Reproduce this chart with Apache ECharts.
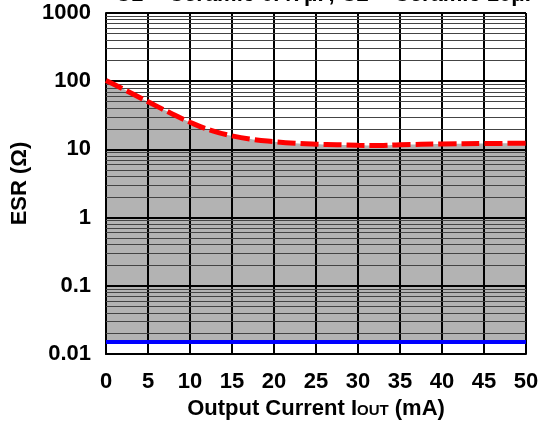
<!DOCTYPE html>
<html>
<head>
<meta charset="utf-8">
<script src="https://cdn.jsdelivr.net/npm/echarts@6/dist/echarts.min.js"></script>
<style>
  html, body { margin: 0; padding: 0; background: #fff; }
  #chart { width: 548px; height: 430px; }
</style>
</head>
<body>
<div id="chart"></div>
<script>
  // output current (mA) and ESR upper limit (ohm)
  const current = [0, 2.5, 5, 7.5, 10, 12.5, 15, 17.5, 20, 22.5, 25, 27.5, 30, 32.5, 35, 40, 45, 50]
  const esrMax = [102, 72, 50, 35, 25, 19, 15.8, 14, 13, 12.3, 11.9, 11.7, 11.5, 11.4, 11.7, 12.0, 12.2, 12.3]
  // lower ESR limit
  const minCurrent = [0, 50]
  const esrMin = [0.015, 0.015]
  const decades = [0.01, 0.1, 1, 10, 100]

  const minorValues = []
  decades.forEach(d => {
    for (let k = 2; k <= 9; k++) minorValues.push(+(d * k).toPrecision(3))
  })

  const font = 'Liberation Sans, Arial, sans-serif'
  const myChart = echarts.init(document.getElementById('chart'))

  myChart.setOption({
    animation: false,
    graphic: [{
      type: 'text',
      left: 115,
      top: -16,
      style: {
        text: 'C1 = Ceramic 0.47μF, C2 = Ceramic 10μF',
        font: 'bold 22px ' + font,
        fill: '#000'
      }
    }],
    grid: { left: 106, right: 22, top: 13, bottom: 76 },
    xAxis: {
      type: 'value',
      min: 0,
      max: 50,
      interval: 5,
      z: 2,
      axisLine: { lineStyle: { color: '#000', width: 2 } },
      axisTick: { show: false },
      axisLabel: { fontSize: 22, fontWeight: 'bold', color: '#000', fontFamily: font, margin: 17 },
      splitLine: { lineStyle: { color: '#000', width: 2 } },
      name: 'Output Current I{s|OUT} (mA)',
      nameLocation: 'middle',
      nameGap: 44,
      nameTextStyle: {
        fontSize: 22, fontWeight: 'bold', color: '#000', fontFamily: font,
        rich: { s: { fontSize: 15, fontWeight: 'bold', color: '#000', fontFamily: font, padding: [4, 0, 0, 0] } }
      }
    },
    yAxis: {
      type: 'log',
      logBase: 10,
      min: 0.01,
      max: 1000,
      z: 2,
      axisLine: { lineStyle: { color: '#000', width: 2 } },
      axisTick: { show: false },
      axisLabel: {
        fontSize: 22, fontWeight: 'bold', color: '#000', fontFamily: font, margin: 15,
        formatter: v => String(Number(v.toPrecision(3)))
      },
      splitLine: { lineStyle: { color: '#000', width: 2 } },
      name: 'ESR (Ω)',
      nameLocation: 'middle',
      nameGap: 70,
      nameTextStyle: { fontSize: 22, fontWeight: 'bold', color: '#000', fontFamily: font }
    },
    series: [
      {
        // gray safe region
        type: 'line',
        data: current.map((c, i) => [c, esrMax[i]]),
        smooth: true,
        symbol: 'none',
        z: 1,
        lineStyle: { width: 0 },
        areaStyle: { color: '#b3b3b3', opacity: 1, origin: esrMin[0] }
      },
      {
        // minor grid lines
        type: 'line',
        data: [],
        z: 3,
        markLine: {
          silent: true,
          symbol: 'none',
          z: 3,
          label: { show: false },
          lineStyle: { color: '#444', width: 1, type: 'solid' },
          data: minorValues.map(v => ({ yAxis: v }))
        }
      },
      {
        type: 'line',
        data: current.map((c, i) => [c, esrMax[i]]),
        smooth: true,
        symbol: 'none',
        z: 10,
        lineStyle: { color: '#ff0000', width: 5, type: [18, 5] }
      },
      {
        type: 'line',
        data: minCurrent.map((c, i) => [c, esrMin[i]]),
        symbol: 'none',
        z: 10,
        lineStyle: { color: '#0000ff', width: 4 }
      }
    ]
  })
</script>
</body>
</html>
